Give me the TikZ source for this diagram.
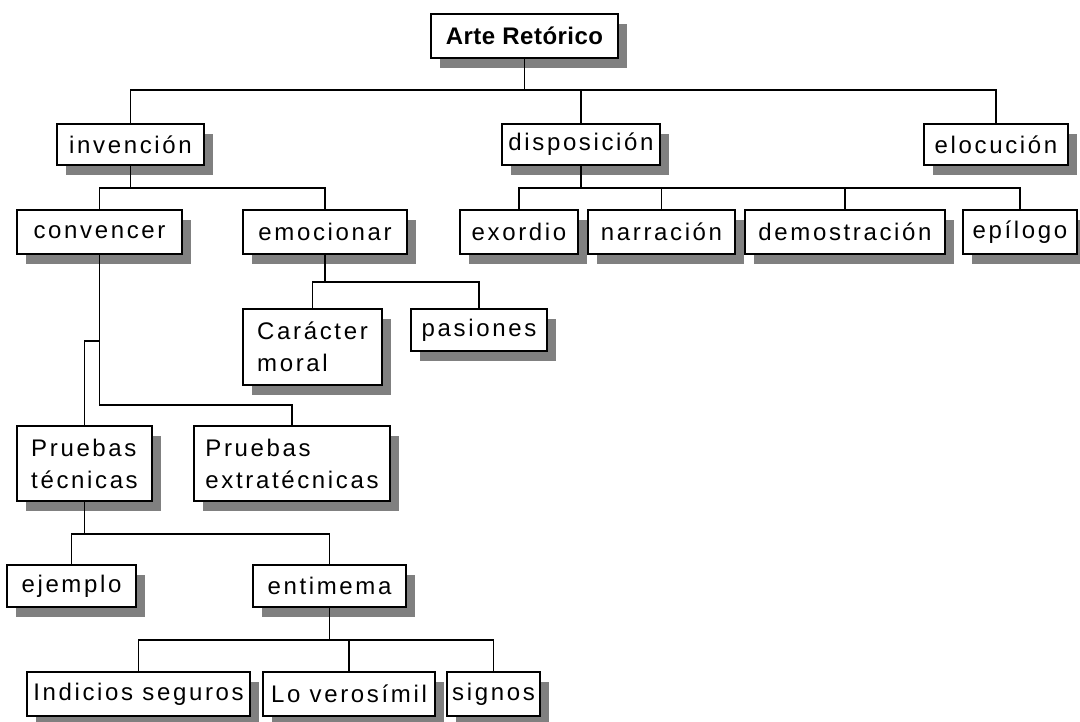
\documentclass[tikz,border=0pt]{standalone}
\usepackage{fontspec}
\setmainfont{Liberation Sans}
\newfontfamily\diagfont[LetterSpace=11]{Liberation Sans}
\newfontfamily\titlefont[LetterSpace=2]{Liberation Sans}
\usetikzlibrary{shadows}
\definecolor{shadowgray}{RGB}{128,128,128}
\tikzset{
  box/.style={draw=black, line width=1.6pt, fill=white, inner sep=0pt,
    font=\diagfont\fontsize{24}{32}\selectfont, align=left,
    drop shadow={shadow xshift=9pt, shadow yshift=-10pt, fill=shadowgray, opacity=1}},
  conn/.style={draw=black, line width=1.6pt}
}
\begin{document}
\begin{tikzpicture}[x=1pt,y=-1pt]
\useasboundingbox (0,0) rectangle (1080,721);
% nodes
\node[box, minimum width=187pt, minimum height=44pt, font=\titlefont\bfseries\fontsize{24}{32}\selectfont] (arte) at (524.5,36) {Arte Retórico};
\node[box, minimum width=147pt, minimum height=41pt] (inv) at (130.5,144.5) {invención};
\node[box, minimum width=158pt, minimum height=41pt] (disp) at (581,144.5) {disposición};
\node[box, minimum width=144pt, minimum height=41pt] (eloc) at (996,144.5) {elocución};
\node[box, minimum width=165pt, minimum height=44pt] (conv) at (99.5,232) {convencer};
\node[box, minimum width=164pt, minimum height=44pt] (emoc) at (325,232) {emocionar};
\node[box, minimum width=118pt, minimum height=44pt] (exo) at (519,232) {exordio};
\node[box, minimum width=147pt, minimum height=44pt] (narr) at (661.5,232) {narración};
\node[box, minimum width=200pt, minimum height=44pt] (demo) at (845,232) {demostración};
\node[box, minimum width=114pt, minimum height=44pt] (epi) at (1020,232) {epílogo};
\node[box, minimum width=139pt, minimum height=76pt] (car) at (312.5,347) {Carácter\\moral};
\node[box, minimum width=136pt, minimum height=42pt] (pas) at (479,330) {pasiones};
\node[box, minimum width=135pt, minimum height=75pt] (pt) at (84.5,463.5) {Pruebas\\técnicas};
\node[box, minimum width=196pt, minimum height=75pt] (pe) at (292,463.5) {Pruebas\\extratécnicas};
\node[box, minimum width=129pt, minimum height=42pt] (ej) at (71.5,586) {ejemplo};
\node[box, minimum width=153pt, minimum height=42pt] (ent) at (329.5,586) {entimema};
\node[box, minimum width=223pt, minimum height=44pt] (ind) at (138.5,694) {Indicios seguros};
\node[box, minimum width=172pt, minimum height=44pt] (lov) at (349,694) {Lo verosímil};
\node[box, minimum width=93pt, minimum height=44pt] (sig) at (493.5,694) {signos};
% bus coordinates
\coordinate (b1) at (0,90);
\coordinate (b2) at (0,188);
\coordinate (b3) at (0,282);
\coordinate (b4) at (0,341);
\coordinate (b5) at (0,405);
\coordinate (b6) at (0,534);
\coordinate (b7) at (0,640);
% connectors
\draw[conn] (arte.south) -- (arte.south |- b1);
\draw[conn] (inv.north) -- (inv.north |- b1) -- (eloc.north |- b1) -- (eloc.north);
\draw[conn] (disp.north) -- (disp.north |- b1);
\draw[conn] (inv.south) -- (inv.south |- b2);
\draw[conn] (conv.north) -- (conv.north |- b2) -- (emoc.north |- b2) -- (emoc.north);
\draw[conn] (disp.south) -- (disp.south |- b2);
\draw[conn] (exo.north) -- (exo.north |- b2) -- (epi.north |- b2) -- (epi.north);
\draw[conn] (narr.north) -- (narr.north |- b2);
\draw[conn] (demo.north) -- (demo.north |- b2);
\draw[conn] (emoc.south) -- (emoc.south |- b3);
\draw[conn] (car.north) -- (car.north |- b3) -- (pas.north |- b3) -- (pas.north);
\draw[conn] (conv.south) -- (conv.south |- b5) -- (pe.north |- b5) -- (pe.north);
\draw[conn] (conv.south |- b4) -- (pt.north |- b4) -- (pt.north);
\draw[conn] (pt.south) -- (pt.south |- b6);
\draw[conn] (ej.north) -- (ej.north |- b6) -- (ent.north |- b6) -- (ent.north);
\draw[conn] (ent.south) -- (ent.south |- b7);
\draw[conn] (ind.north) -- (ind.north |- b7) -- (sig.north |- b7) -- (sig.north);
\draw[conn] (lov.north) -- (lov.north |- b7);
\end{tikzpicture}
\end{document}
